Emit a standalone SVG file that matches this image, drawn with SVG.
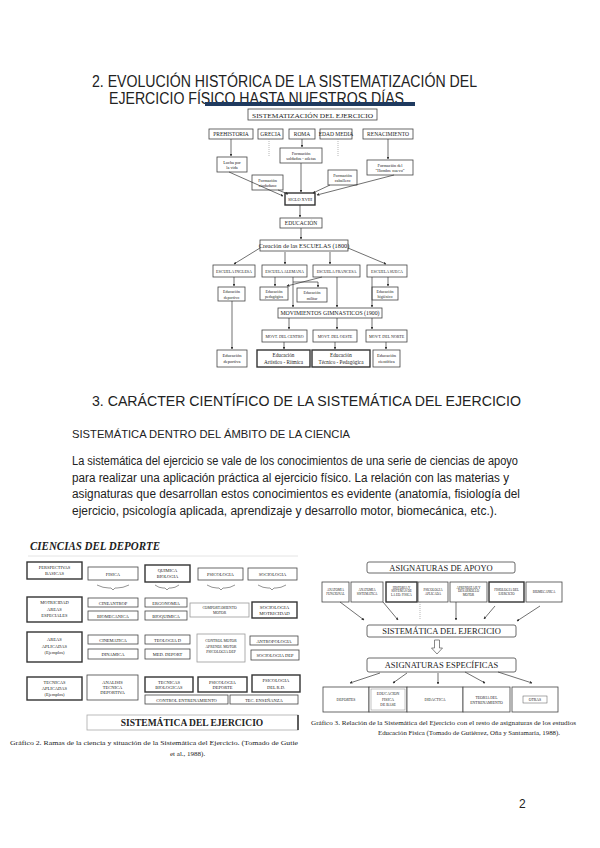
<svg xmlns="http://www.w3.org/2000/svg" width="600" height="848" viewBox="0 0 600 848">
<style>
.h{font-family:"Liberation Sans",Arial,sans-serif;fill:#222}
.s{font-family:"Liberation Serif","Times New Roman",serif;fill:#222;text-anchor:middle}
.b{fill:#fff;stroke:#444;stroke-width:0.8}
.bt{fill:#fff;stroke:#333;stroke-width:1.4}
.bg{fill:#fff;stroke:#999;stroke-width:0.8}
.c{fill:none;stroke:#333;stroke-width:0.7}
.cd{fill:none;stroke:#999;stroke-width:0.7;stroke-dasharray:1 1}
.br{fill:none;stroke:#666;stroke-width:0.7}
</style>
<defs>
<marker id="a" viewBox="0 0 6 6" refX="5" refY="3" markerWidth="4" markerHeight="4" orient="auto"><path d="M0,0 L6,3 L0,6 z" fill="#333"/></marker>
</defs>
<rect width="600" height="848" fill="#fff"/>

<!-- headings -->
<text class="h" x="92" y="87" font-size="16" textLength="385" lengthAdjust="spacingAndGlyphs">2. EVOLUCIÓN HISTÓRICA DE LA SISTEMATIZACIÓN DEL</text>
<text class="h" x="109" y="104" font-size="16" textLength="295" lengthAdjust="spacingAndGlyphs">EJERCICIO FÍSICO HASTA NUESTROS DÍAS</text>
<rect x="205" y="102" width="210" height="4" fill="#1f3a5f"/>

<!-- top diagram -->
<g id="top-diagram">
<g id="n-sist"><rect class="b" x="248" y="109" width="129" height="11"/><text class="s" x="312.5" y="117.5" font-size="7" textLength="121" lengthAdjust="spacingAndGlyphs">SISTEMATIZACIÓN DEL EJERCICIO</text></g>
<g id="n-prehistoria"><rect class="b" x="209" y="129" width="44" height="10"/><text class="s" x="231" y="136.2" font-size="5.5">PREHISTORIA</text></g>
<g id="n-grecia"><rect class="b" x="258" y="129" width="25" height="10"/><text class="s" x="270.5" y="136.2" font-size="5.5">GRECIA</text></g>
<g id="n-roma"><rect class="b" x="289" y="129" width="26" height="10"/><text class="s" x="302" y="136.2" font-size="5.5">ROMA</text></g>
<g id="n-edadmedia"><rect class="b" x="320" y="129" width="32" height="10"/><text class="s" x="336" y="136.2" font-size="5.5">EDAD MEDIA</text></g>
<g id="n-renac"><rect class="b" x="363" y="129" width="50" height="10"/><text class="s" x="388" y="136.2" font-size="5.5">RENACIMIENTO</text></g>
<g id="n-lucha"><rect class="b" x="217" y="157" width="30" height="15"/><text class="s" x="232" y="163.5" font-size="4.3">Lucha por</text><text class="s" x="232" y="169" font-size="4.3">la vida</text></g>
<g id="n-ciud"><rect class="b" x="252" y="175" width="31" height="15"/><text class="s" x="267.5" y="181.5" font-size="4.3">Formación</text><text class="s" x="267.5" y="187" font-size="4.3">ciudadano</text></g>
<g id="n-sold"><rect class="b" x="280" y="148" width="42" height="15"/><text class="s" x="301" y="154.5" font-size="4.3">Formación</text><text class="s" x="301" y="160" font-size="4.3">soldados - atletas</text></g>
<g id="n-cab"><rect class="b" x="328" y="170" width="29" height="15"/><text class="s" x="342.5" y="176.5" font-size="4.3">Formación</text><text class="s" x="342.5" y="182" font-size="4.3">caballero</text></g>
<g id="n-hombre"><rect class="b" x="367" y="160" width="46" height="15"/><text class="s" x="390" y="166.5" font-size="4.3">Formación del</text><text class="s" x="390" y="172" font-size="4.3">"Hombre nuevo"</text></g>
<g id="n-siglo"><rect class="bt" x="285" y="193" width="30" height="12"/><text class="s" x="300" y="200.7" font-size="4.3">SIGLO XVIII</text></g>
<g id="n-educ"><rect class="b" x="280" y="218" width="42" height="10"/><text class="s" x="301" y="225.2" font-size="5.5">EDUCACIÓN</text></g>
<g id="n-creacion"><rect class="b" x="260" y="240" width="88" height="11"/><text class="s" x="304" y="247.8" font-size="6.3">Creación de las ESCUELAS (1800)</text></g>
<g id="n-inglesa"><rect class="b" x="213" y="265" width="42" height="12"/><text class="s" x="234" y="272.5" font-size="4">ESCUELA INGLESA</text></g>
<g id="n-alemana"><rect class="b" x="262" y="265" width="45" height="12"/><text class="s" x="284.5" y="272.5" font-size="4">ESCUELA ALEMANA</text></g>
<g id="n-francesa"><rect class="b" x="313" y="265" width="47" height="12"/><text class="s" x="336.5" y="272.5" font-size="4">ESCUELA FRANCESA</text></g>
<g id="n-sueca"><rect class="b" x="367" y="265" width="40" height="12"/><text class="s" x="387" y="272.5" font-size="4">ESCUELA SUECA</text></g>
<g id="n-edep1"><rect class="b" x="218" y="287" width="27" height="14"/><text class="s" x="231.5" y="293" font-size="4">Educación</text><text class="s" x="231.5" y="298.5" font-size="4">deportivo</text></g>
<g id="n-eped"><rect class="b" x="260" y="287" width="28" height="13"/><text class="s" x="274" y="292.5" font-size="4">Educación</text><text class="s" x="274" y="298" font-size="4">pedagógica</text></g>
<g id="n-emil"><rect class="b" x="297" y="288" width="30" height="14"/><text class="s" x="312" y="294" font-size="4">Educación</text><text class="s" x="312" y="299.5" font-size="4">militar</text></g>
<g id="n-ehig"><rect class="b" x="372" y="287" width="26" height="13"/><text class="s" x="385" y="292.5" font-size="4">Educación</text><text class="s" x="385" y="298" font-size="4">higiénico</text></g>
<g id="n-mov"><rect class="b" x="278" y="308" width="104" height="10"/><text class="s" x="330" y="315.2" font-size="5.8">MOVIMIENTOS GIMNASTICOS (1900)</text></g>
<g id="n-centro"><rect class="b" x="262" y="330" width="45" height="12"/><text class="s" x="284.5" y="337.5" font-size="4">MOVT. DEL CENTRO</text></g>
<g id="n-oeste"><rect class="b" x="313" y="330" width="44" height="12"/><text class="s" x="335" y="337.5" font-size="4">MOVT. DEL OESTE</text></g>
<g id="n-norte"><rect class="b" x="366" y="330" width="41" height="12"/><text class="s" x="386.5" y="337.5" font-size="4">MOVT. DEL NORTE</text></g>
<g id="n-edep2"><rect class="b" x="217" y="350" width="30" height="17"/><text class="s" x="232" y="357" font-size="4.5">Educación</text><text class="s" x="232" y="363" font-size="4.5">deportiva</text></g>
<g id="n-eart"><rect class="bt" x="257" y="350" width="53" height="17"/><text class="s" x="283.5" y="357" font-size="5.2">Educación</text><text class="s" x="283.5" y="363.5" font-size="5.2">Artístico - Rítmica</text></g>
<g id="n-etec"><rect class="bt" x="312" y="350" width="58" height="17"/><text class="s" x="341" y="357" font-size="5.2">Educación</text><text class="s" x="341" y="363.5" font-size="5.2">Técnico - Pedagógica</text></g>
<g id="n-ecien"><rect class="b" x="373" y="350" width="27" height="17"/><text class="s" x="386.5" y="357" font-size="4.5">Educación</text><text class="s" x="386.5" y="363" font-size="4.5">científica</text></g>
</g>
<g id="top-connectors">
<path class="c" d="M231,139 V156" stroke-width="1" marker-end="url(#a)"/>
<path class="cd" d="M269,139 V156"/>
<path class="c" d="M302,139 V147" marker-end="url(#a)"/>
<path class="cd" d="M338,139 V156"/>
<path class="c" d="M388,139 V159" marker-end="url(#a)"/>
<path class="c" d="M229,172 L283,196" marker-end="url(#a)"/>
<path class="c" d="M278,190 L288,194" marker-end="url(#a)"/>
<path class="c" d="M301,163 V192" marker-end="url(#a)"/>
<path class="c" d="M330,185 L313,193" marker-end="url(#a)"/>
<path class="c" d="M394,175 L317,195" marker-end="url(#a)"/>
<path class="c" d="M300,205 V217" marker-end="url(#a)"/>
<path class="c" d="M301,228 V239" marker-end="url(#a)"/>
<path class="c" d="M260,248 L234,264" marker-end="url(#a)"/>
<path class="c" d="M285,252 V264" marker-end="url(#a)"/>
<path class="c" d="M330,252 V264" marker-end="url(#a)"/>
<path class="c" d="M348,248 L386,264" marker-end="url(#a)"/>
<path class="c" d="M234,277 V286" marker-end="url(#a)"/>
<path class="c" d="M275,277 V286" marker-end="url(#a)"/>
<path class="c" d="M322,277 L287,286" marker-end="url(#a)"/>
<path class="c" d="M293,277 V307" marker-end="url(#a)"/>
<path class="c" d="M293,282 H318 V287" marker-end="url(#a)"/>
<path class="c" d="M337,277 V307" marker-end="url(#a)"/>
<path class="c" d="M372,277 V307" marker-end="url(#a)"/>
<path class="c" d="M388,277 V286" marker-end="url(#a)"/>
<path class="c" d="M289,318 V329" marker-end="url(#a)"/>
<path class="c" d="M337,318 V329" marker-end="url(#a)"/>
<path class="c" d="M372,318 V329" marker-end="url(#a)"/>
<path class="c" d="M232,301 V349" marker-end="url(#a)"/>
<path class="c" d="M284,342 V349" marker-end="url(#a)"/>
<path class="c" d="M335,342 V349" marker-end="url(#a)"/>
<path class="c" d="M386,342 V349" marker-end="url(#a)"/>
</g>

<!-- section 3 -->
<text class="h" x="92" y="406" font-size="15.5" textLength="429" lengthAdjust="spacingAndGlyphs">3. CARÁCTER CIENTÍFICO DE LA SISTEMÁTICA DEL EJERCICIO</text>
<text class="h" x="72" y="438" font-size="11.5" textLength="278" lengthAdjust="spacingAndGlyphs">SISTEMÁTICA DENTRO DEL ÁMBITO DE LA CIENCIA</text>
<text class="h" x="72" y="465" font-size="12" textLength="446" lengthAdjust="spacingAndGlyphs">La sistemática del ejercicio se vale de los conocimientos de una serie de ciencias de apoyo</text>
<text class="h" x="72" y="481.5" font-size="12" textLength="437" lengthAdjust="spacingAndGlyphs">para realizar una aplicación práctica al ejercicio físico. La relación con las materias y</text>
<text class="h" x="72" y="498" font-size="12" textLength="448" lengthAdjust="spacingAndGlyphs">asignaturas que desarrollan estos conocimientos es evidente (anatomía, fisiología del</text>
<text class="h" x="72" y="514.5" font-size="12" textLength="425" lengthAdjust="spacingAndGlyphs">ejercicio, psicología aplicada, aprendizaje y desarrollo motor, biomecánica, etc.).</text>

<!-- left diagram: ciencias del deporte -->
<g id="ciencias">
<text x="30" y="550" font-family="Liberation Serif,serif" font-size="12.5" font-weight="bold" font-style="italic" fill="#222" textLength="130" lengthAdjust="spacingAndGlyphs">CIENCIAS DEL DEPORTE</text>
<line x1="28" y1="556" x2="298" y2="556" stroke="#ddd" stroke-width="0.8"/>
<g id="l-persp"><rect class="bt" x="27" y="562" width="55" height="17"/><text class="s" x="54.5" y="569" font-size="4.5">PERSPECTIVAS</text><text class="s" x="54.5" y="575" font-size="4.5">BASICAS</text></g>
<g id="l-fisica"><rect class="b" x="88" y="567" width="50" height="13"/><text class="s" x="113" y="575.5" font-size="4.5">FISICA</text></g>
<g id="l-quim"><rect class="bt" x="145" y="565" width="45" height="17"/><text class="s" x="167.5" y="571.5" font-size="4.5">QUIMICA</text><text class="s" x="167.5" y="577.5" font-size="4.5">BIOLOGIA</text></g>
<g id="l-psico"><rect class="b" x="198" y="568" width="45" height="12"/><text class="s" x="220.5" y="575.5" font-size="4.5">PSICOLOGIA</text></g>
<g id="l-socio"><rect class="b" x="248" y="568" width="49" height="12"/><text class="s" x="272.5" y="575.5" font-size="4.5">SOCIOLOGIA</text></g>
<g id="braces">
<path class="br" d="M97,585 Q103,588 109,588 L111,588 L113,590 L115,588 L117,588 Q123,588 129,585"/>
<path class="br" d="M155,585 Q159,588 163,588 L165,588 L167,590 L169,588 L171,588 Q175,588 179,585"/>
<path class="br" d="M207,585 Q212,588 217,588 L219,588 L221,590 L223,588 L225,588 Q230,588 235,585"/>
<path class="br" d="M258,585 Q263,588 268,588 L270,588 L272,590 L274,588 L276,588 Q281,588 286,585"/>
</g>
<g id="l-motr"><rect class="bt" x="27" y="597" width="55" height="25"/><text class="s" x="54.5" y="604" font-size="4.5">MOTRICIDAD</text><text class="s" x="54.5" y="610.5" font-size="4.5">AREAS</text><text class="s" x="54.5" y="617" font-size="4.5">ESPECIALES</text></g>
<g id="l-cine"><rect class="b" x="88" y="598" width="50" height="9"/><text class="s" x="113" y="604.5" font-size="4.5">CINEANTROP</text></g>
<g id="l-biom"><rect class="b" x="88" y="611" width="50" height="9"/><text class="s" x="113" y="617.5" font-size="4.5">BIOMECANICA</text></g>
<g id="l-ergo"><rect class="b" x="145" y="598" width="42" height="9"/><text class="s" x="166" y="604.5" font-size="4.5">ERGONOMIA</text></g>
<g id="l-bioq"><rect class="b" x="145" y="611" width="42" height="9"/><text class="s" x="166" y="617.5" font-size="4.5">BIOQUIMICA</text></g>
<g id="l-comp"><rect class="bg" x="190" y="603" width="59" height="14"/><text class="s" x="219.5" y="609" font-size="3.7">COMPORTAMIENTO</text><text class="s" x="219.5" y="614" font-size="3.7">MOTOR</text></g>
<g id="l-sociom"><rect class="bt" x="252" y="602" width="45" height="16"/><text class="s" x="274.5" y="609" font-size="4.8">SOCIOLOGIA</text><text class="s" x="274.5" y="615" font-size="4.8">MOTRICIDAD</text></g>
<g id="l-areas"><rect class="bt" x="27" y="632" width="55" height="30"/><text class="s" x="54.5" y="641" font-size="4.5">AREAS</text><text class="s" x="54.5" y="647.5" font-size="4.5">APLICADAS</text><text class="s" x="54.5" y="654" font-size="4.5">(Ejemplos)</text></g>
<g id="l-cinem"><rect class="b" x="88" y="635" width="50" height="9"/><text class="s" x="113" y="641.5" font-size="4.5">CINEMATICA</text></g>
<g id="l-dina"><rect class="b" x="88" y="649" width="50" height="10"/><text class="s" x="113" y="656" font-size="4.5">DINAMICA</text></g>
<g id="l-teol"><rect class="b" x="145" y="635" width="45" height="9"/><text class="s" x="167.5" y="641.5" font-size="4.5">TEOLOGIA D</text></g>
<g id="l-med"><rect class="b" x="145" y="649" width="45" height="10"/><text class="s" x="167.5" y="656" font-size="4.5">MED. DEPORT</text></g>
<g id="l-ctrl"><rect class="bg" x="197" y="634" width="48" height="28"/><text class="s" x="221" y="642" font-size="3.7">CONTROL MOTOR</text><text class="s" x="221" y="647.5" font-size="3.7">APRENDI. MOTOR</text><text class="s" x="221" y="653" font-size="3.7">PSICOLOGIA DEP</text></g>
<g id="l-antro"><rect class="b" x="250" y="636" width="48" height="9"/><text class="s" x="274" y="642.5" font-size="4.5">ANTROPOLOGIA</text></g>
<g id="l-sociod"><rect class="b" x="251" y="650" width="48" height="10"/><text class="s" x="275" y="657" font-size="4.5">SOCIOLOGIA DEP</text></g>
<g id="l-tecap"><rect class="bt" x="27" y="677" width="55" height="23"/><text class="s" x="54.5" y="683.5" font-size="4.5">TECNICAS</text><text class="s" x="54.5" y="689.5" font-size="4.5">APLICADAS</text><text class="s" x="54.5" y="695.5" font-size="4.5">(Ejemplos)</text></g>
<g id="l-anal"><rect class="b" x="87" y="675" width="51" height="25"/><text class="s" x="112.5" y="684" font-size="4.5">ANALISIS</text><text class="s" x="112.5" y="689" font-size="4.5">TECNICA</text><text class="s" x="112.5" y="694" font-size="4.5">DEPORTIVA</text></g>
<g id="l-tecb"><rect class="bt" x="145" y="677" width="48" height="15"/><text class="s" x="169" y="683.5" font-size="4.5">TECNICAS</text><text class="s" x="169" y="689" font-size="4.5">BIOLOGICAS</text></g>
<g id="l-psd"><rect class="bt" x="198" y="677" width="49" height="15"/><text class="s" x="222.5" y="683.5" font-size="4.5">PSICOLOGIA</text><text class="s" x="222.5" y="689" font-size="4.5">DEPORTE</text></g>
<g id="l-psr"><rect class="bt" x="252" y="675" width="48" height="17"/><text class="s" x="276" y="681.5" font-size="4.5">PSICOLOGIA</text><text class="s" x="276" y="688.5" font-size="4.5">DEL R.D.</text></g>
<g id="l-cent"><rect class="b" x="145" y="695" width="83" height="9"/><text class="s" x="186.5" y="701.5" font-size="4.5">CONTROL ENTRENAMIENTO</text></g>
<g id="l-tece"><rect class="b" x="230" y="695" width="68" height="9"/><text class="s" x="264" y="701.5" font-size="4.5">TEC. ENSEÑANZA</text></g>
<g id="l-sist"><rect x="87" y="715" width="211" height="15" fill="#fff" stroke="#aaa" stroke-width="0.8"/><path d="M298,715 V730" stroke="#333" stroke-width="1.5"/><text class="s" x="192" y="726" font-size="9.5" font-weight="bold">SISTEMÁTICA DEL EJERCICIO</text></g>
<text x="10" y="745" font-family="Liberation Serif,serif" font-size="7" fill="#222" textLength="288" lengthAdjust="spacingAndGlyphs">Gráfico 2. Ramas de la ciencia y situación de la Sistemática del Ejercicio. (Tomado de Gutie</text>
<text x="170" y="756" font-family="Liberation Serif,serif" font-size="7" fill="#222">et al., 1988).</text>
</g>

<!-- right diagram -->
<g id="asignaturas">
<g id="r-apoyo"><rect class="b" x="367" y="562" width="148" height="11" rx="2"/><text class="s" x="441" y="570.7" font-size="8.5">ASIGNATURAS DE APOYO</text></g>
<g id="r-anaf"><rect class="b" x="322" y="582" width="27" height="20"/><text class="s" x="335.5" y="590.5" font-size="3.2">ANATOMIA</text><text class="s" x="335.5" y="594.5" font-size="3.2">FUNCIONAL</text></g>
<g id="r-anas"><rect class="b" x="351" y="582" width="32" height="20"/><text class="s" x="367" y="590.5" font-size="3.2">ANATOMIA</text><text class="s" x="367" y="594.5" font-size="3.2">SISTEMATICA</text></g>
<g id="r-hist"><rect class="bt" x="386" y="582" width="31" height="20"/><text class="s" x="401.5" y="588.5" font-size="3.2">HISTORIA Y</text><text class="s" x="401.5" y="592" font-size="3.2">SISTEMAS DE</text><text class="s" x="401.5" y="595.5" font-size="3.2">LA ED. FISICA</text></g>
<g id="r-psic"><rect class="b" x="418" y="582" width="30" height="20"/><text class="s" x="433" y="590.5" font-size="3.2">PSICOLOGIA</text><text class="s" x="433" y="594.5" font-size="3.2">APLICADA</text></g>
<g id="r-apre"><rect class="b" x="450" y="582" width="37" height="20"/><text class="s" x="468.5" y="588.5" font-size="3.2">APRENDIZAJE Y</text><text class="s" x="468.5" y="592" font-size="3.2">DESARROLLO</text><text class="s" x="468.5" y="595.5" font-size="3.2">MOTOR</text></g>
<g id="r-fisi"><rect class="bt" x="489" y="582" width="35" height="20"/><text class="s" x="506.5" y="590.5" font-size="3.2">FISIOLOGIA DEL</text><text class="s" x="506.5" y="594.5" font-size="3.2">EJERCICIO</text></g>
<g id="r-biom"><rect class="b" x="526" y="582" width="36" height="20"/><text class="s" x="544" y="593" font-size="3.2">BIOMECANICA</text></g>
<g id="r-sist"><rect class="b" x="367" y="625" width="149" height="12" rx="2"/><text class="s" x="441.5" y="634.2" font-size="8.5">SISTEMÁTICA DEL EJERCICIO</text></g>
<g id="r-esp"><rect class="b" x="367" y="658" width="149" height="14" rx="2"/><text class="s" x="441.5" y="668.3" font-size="8.5">ASIGNATURAS ESPECÍFICAS</text></g>
<g id="r-dep"><rect class="b" x="323" y="687" width="46" height="25"/><text class="s" x="346" y="701" font-size="3.8">DEPORTES</text></g>
<g id="r-efb"><rect class="b" x="369" y="687" width="38" height="25"/><rect x="371" y="689" width="34" height="21" fill="none" stroke="#888" stroke-width="0.5"/><text class="s" x="388" y="695" font-size="3.8">EDUCACION</text><text class="s" x="388" y="700.5" font-size="3.8">FISICA</text><text class="s" x="388" y="706" font-size="3.8">DE BASE</text></g>
<g id="r-did"><rect class="b" x="407" y="687" width="56" height="25"/><text class="s" x="435" y="701" font-size="3.8">DIDACTICA</text></g>
<g id="r-teo"><rect class="b" x="463" y="687" width="47" height="25"/><text class="s" x="486.5" y="699" font-size="3.8">TEORIA DEL</text><text class="s" x="486.5" y="703.5" font-size="3.8">ENTRENAMIENTO</text></g>
<g id="r-otras"><rect class="b" x="512" y="687" width="46" height="25"/><rect x="523" y="696" width="24" height="7" fill="none" stroke="#555" stroke-width="0.5"/><text class="s" x="535" y="701.3" font-size="3.8">OTRAS</text></g>
<text x="311" y="725" font-family="Liberation Serif,serif" font-size="5.8" fill="#222" textLength="265" lengthAdjust="spacingAndGlyphs">Gráfico 3. Relación de la Sistemática del Ejercicio con el resto de asignaturas de los estudios</text>
<text x="378" y="735" font-family="Liberation Serif,serif" font-size="5.8" fill="#222" textLength="182" lengthAdjust="spacingAndGlyphs">Educación Física (Tomado de Gutiérrez, Oña y Santamaría, 1988).</text>
</g>
<g id="right-connectors">
<path class="c" d="M340,602 L364,620" marker-end="url(#a)"/>
<path class="c" d="M383,602 L398,620" marker-end="url(#a)"/>
<path class="cd" d="M420,602 V620"/>
<path class="c" d="M456,602 V620" marker-end="url(#a)"/>
<path class="c" d="M495,606 L484,619" marker-end="url(#a)"/>
<path class="c" d="M540,606 L517,621" marker-end="url(#a)"/>
<path d="M434.5,640 H439.5 V648 H442.5 L437,654 L431.5,648 H434.5 Z" fill="#fff" stroke="#555" stroke-width="0.7"/>
<path class="c" d="M380,673 L350,683" marker-end="url(#a)"/>
<path class="c" d="M407,673 L393,683" marker-end="url(#a)"/>
<path class="c" d="M438,673 V684" marker-end="url(#a)"/>
<path class="c" d="M465,672 L485,683" marker-end="url(#a)"/>
<path class="c" d="M498,672 L532,683" marker-end="url(#a)"/>
</g>

<text class="h" x="519" y="808" font-size="12">2</text>
</svg>
